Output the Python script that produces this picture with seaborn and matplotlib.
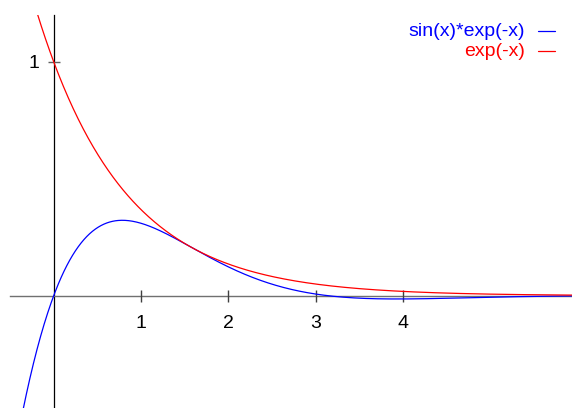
import numpy as np
import pandas as pd
import matplotlib
matplotlib.use("Agg")
import matplotlib.pyplot as plt
from matplotlib.lines import Line2D
import seaborn as sns

sns.set_theme(style="white")
plt.rcParams["font.family"] = ["Liberation Sans", "DejaVu Sans"]

# Sampled domain and the two plotted functions
x_values = np.linspace(-0.5, 6.0, 800)
series_names = ["sin(x)*exp(-x)", "exp(-x)"]
series_colors = ["#0000ff", "#ff0000"]
x_ticks = [1, 2, 3, 4]
x_tick_labels = ["1", "2", "3", "4"]
y_ticks = [1]
y_tick_labels = ["1"]

damped = np.sin(x_values) * np.exp(-x_values)
decay = np.exp(-x_values)

df = pd.concat([
    pd.DataFrame({"x": x_values, "y": damped, "f": series_names[0]}),
    pd.DataFrame({"x": x_values, "y": decay, "f": series_names[1]}),
])

W, H = 572, 408
fig = plt.figure(figsize=(W / 100, H / 100), dpi=100)
ax = fig.add_axes([10 / W, 0, 562 / W, 393 / H])
ax.set_facecolor("none")

sns.lineplot(data=df, x="x", y="y", hue="f", palette=series_colors,
             hue_order=series_names, linewidth=0.9, legend=False, ax=ax,
             sort=False, estimator=None)

ax.set_xlim(-0.5, 5.931)
ax.set_ylim(-0.48, 1.2)
ax.set_xlabel("")
ax.set_ylabel("")

# Zero axes
for side in ("top", "right"):
    ax.spines[side].set_visible(False)
ax.spines["bottom"].set_position("zero")
ax.spines["left"].set_position("zero")
ax.spines["bottom"].set_color("#707070")
ax.spines["bottom"].set_linewidth(1.0)
ax.spines["left"].set_color("#000000")
ax.spines["left"].set_linewidth(0.9)
ax.spines["bottom"].set_zorder(0.5)
ax.spines["left"].set_zorder(0.5)

ax.set_xticks(x_ticks, x_tick_labels)
ax.set_yticks(y_ticks, y_tick_labels)
ax.tick_params(axis="x", bottom=True, direction="inout", length=8.5,
               width=1.0, color="#404040", labelsize=14, pad=9.5,
               labelcolor="black")
ax.tick_params(axis="y", left=True, direction="inout", length=8.5,
               width=1.0, color="#606060", labelsize=14, pad=6,
               labelcolor="black")
ax.grid(False)

# Key in the upper right corner
key_rows = [31, 51]
for name, color, ypix in zip(series_names, series_colors, key_rows):
    fy = 1 - ypix / H
    fig.text(525 / W, fy, name, color=color, fontsize=14,
             ha="right", va="center")
    fig.add_artist(Line2D([538 / W, 555 / W], [fy, fy], color=color,
                          linewidth=0.9, transform=fig.transFigure))

fig.savefig("out.png", dpi=100)
